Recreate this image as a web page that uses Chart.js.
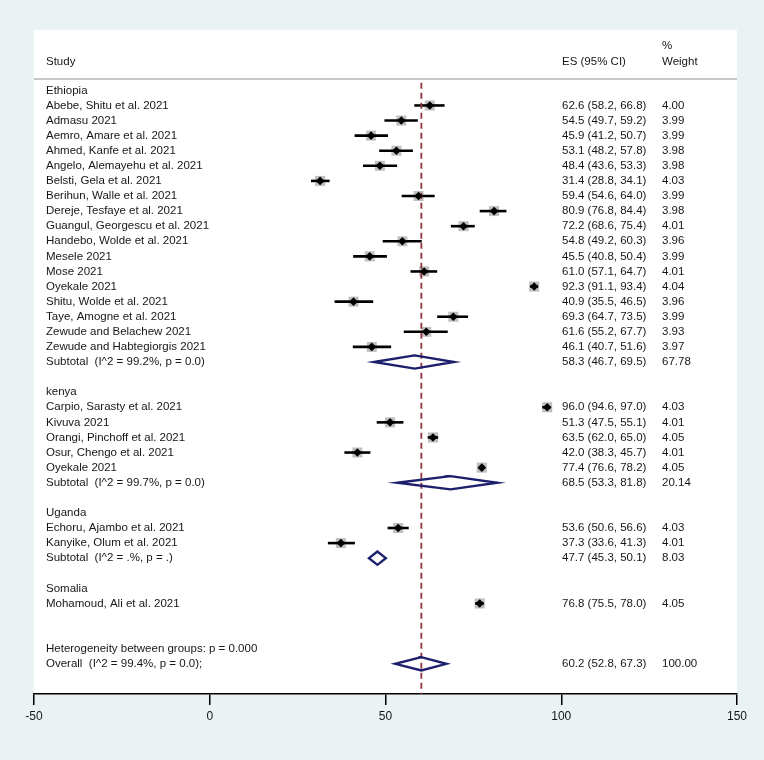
<!DOCTYPE html>
<html>
<head>
<meta charset="utf-8">
<title>Forest plot</title>
<script src="https://cdn.jsdelivr.net/npm/chart.js@4"></script>
<style>
  html, body { margin: 0; padding: 0; background: #eaf2f3; }
  #wrap { width: 764px; height: 760px; position: relative; }
</style>
</head>
<body>
<div id="wrap"><canvas id="forest"></canvas></div>
<script>
// ---- data ----
const groupNames = ['Ethiopia', 'kenya', 'Uganda', 'Somalia'];

const studyNames = [
    'Abebe, Shitu et al. 2021', 'Admasu 2021', 'Aemro, Amare et al. 2021', 'Ahmed, Kanfe et al. 2021',
    'Angelo, Alemayehu et al. 2021', 'Belsti, Gela et al. 2021', 'Berihun, Walle et al. 2021',
    'Dereje, Tesfaye et al. 2021', 'Guangul, Georgescu et al. 2021', 'Handebo, Wolde et al. 2021',
    'Mesele 2021', 'Mose 2021', 'Oyekale 2021', 'Shitu, Wolde et al. 2021', 'Taye, Amogne et al. 2021',
    'Zewude and Belachew 2021', 'Zewude and Habtegiorgis 2021',
    'Carpio, Sarasty et al. 2021', 'Kivuva 2021', 'Orangi, Pinchoff et al. 2021', 'Osur, Chengo et al. 2021',
    'Oyekale 2021',
    'Echoru, Ajambo et al. 2021', 'Kanyike, Olum et al. 2021',
    'Mohamoud, Ali et al. 2021'
];
const studyGroup = [0,0,0,0,0,0,0,0,0,0,0,0,0,0,0,0,0, 1,1,1,1,1, 2,2, 3];
const studyEs = [62.6, 54.5, 45.9, 53.1, 48.4, 31.4, 59.4, 80.9, 72.2, 54.8, 45.5, 61.0, 92.3, 40.9, 69.3, 61.6, 46.1,
                 96.0, 51.3, 63.5, 42.0, 77.4, 53.6, 37.3, 76.8];
const studyLo = [58.2, 49.7, 41.2, 48.2, 43.6, 28.8, 54.6, 76.8, 68.6, 49.2, 40.8, 57.1, 91.1, 35.5, 64.7, 55.2, 40.7,
                 94.6, 47.5, 62.0, 38.3, 76.6, 50.6, 33.6, 75.5];
const studyHi = [66.8, 59.2, 50.7, 57.8, 53.3, 34.1, 64.0, 84.4, 75.4, 60.3, 50.4, 64.7, 93.4, 46.5, 73.5, 67.7, 51.6,
                 97.0, 55.1, 65.0, 45.7, 78.2, 56.6, 41.3, 78.0];
const studyWeight = [4.00, 3.99, 3.99, 3.98, 3.98, 4.03, 3.99, 3.98, 4.01, 3.96, 3.99, 4.01, 4.04, 3.96, 3.99, 3.93, 3.97,
                     4.03, 4.01, 4.05, 4.01, 4.05, 4.03, 4.01, 4.05];

const subtotalLabels = ['Subtotal  (I^2 = 99.2%, p = 0.0)', 'Subtotal  (I^2 = 99.7%, p = 0.0)',
                        'Subtotal  (I^2 = .%, p = .)', null];
const subtotalEs = [58.3, 68.5, 47.7, null];
const subtotalLo = [46.7, 53.3, 45.3, null];
const subtotalHi = [69.5, 81.8, 50.1, null];
const subtotalWeight = [67.78, 20.14, 8.03, null];

const hetLabel = 'Heterogeneity between groups: p = 0.000';
const overallLabel = 'Overall  (I^2 = 99.4%, p = 0.0);';
const overallEs = 60.2, overallLo = 52.8, overallHi = 67.3, overallWeight = 100.00;

const xTicks = [-50, 0, 50, 100, 150];

// ---- build row layout ----
const rows = [];
let r = 0;
groupNames.forEach((g, gi) => {
    rows.push({ kind: 'group', text: g, row: r++ });
    studyNames.forEach((n, i) => {
        if (studyGroup[i] !== gi) return;
        rows.push({ kind: 'study', text: n, es: studyEs[i], lo: studyLo[i], hi: studyHi[i], w: studyWeight[i], row: r++ });
    });
    if (subtotalEs[gi] != null) {
        rows.push({ kind: 'sub', text: subtotalLabels[gi], es: subtotalEs[gi], lo: subtotalLo[gi],
                    hi: subtotalHi[gi], w: subtotalWeight[gi], row: r });
    }
    r += 2;
});
rows.push({ kind: 'het', text: hetLabel, row: r++ });
rows.push({ kind: 'sub', text: overallLabel, es: overallEs, lo: overallLo, hi: overallHi, w: overallWeight, row: r });

const studyRows = rows.filter(d => d.kind === 'study');
const diamondRows = rows.filter(d => d.kind === 'sub');

const FONT = '"Liberation Sans", Arial, Helvetica, sans-serif';
const NAVY = '#1b1f6c';
const H = 0.44; // diamond half height in rows

function diamond(d) {
    return [
        { x: d.lo, y: d.row }, { x: d.es, y: d.row - H }, { x: d.hi, y: d.row },
        { x: d.es, y: d.row + H }, { x: d.lo, y: d.row }, { x: d.es, y: d.row - H }
    ];
}

const datasets = [];
// grey weight boxes
datasets.push({
    data: studyRows.map(d => ({ x: d.es, y: d.row })),
    pointStyle: 'rect',
    pointRadius: ctx => 3.54 * Math.sqrt(studyRows[ctx.dataIndex].w),
    backgroundColor: '#bfbfbf',
    borderWidth: 0,
    order: 5
});
// confidence intervals
studyRows.forEach(d => {
    datasets.push({
        data: [{ x: d.lo, y: d.row }, { x: d.hi, y: d.row }],
        showLine: true,
        borderColor: '#000',
        borderWidth: 2.6,
        pointRadius: 0,
        order: 4
    });
});
// overall effect line
datasets.push({
    data: [{ x: overallEs, y: -0.5 }, { x: overallEs, y: 40 }],
    showLine: true,
    borderColor: '#93343d',
    borderWidth: 1.8,
    borderDash: [6, 4],
    pointRadius: 0,
    order: 3
});
// subtotal / overall diamonds
diamondRows.forEach(d => {
    datasets.push({
        data: diamond(d),
        showLine: true,
        borderColor: NAVY,
        borderWidth: 2.4,
        pointRadius: 0,
        order: 2
    });
});
// point estimates
datasets.push({
    data: studyRows.map(d => ({ x: d.es, y: d.row })),
    pointStyle: 'rectRot',
    pointRadius: 4.3,
    backgroundColor: '#000',
    borderWidth: 0,
    order: 1
});

const fmt = d => `${d.es.toFixed(1)} (${d.lo.toFixed(1)}, ${d.hi.toFixed(1)})`;

const forestText = {
    id: 'forestText',
    beforeDraw(chart) {
        const { ctx, chartArea: a } = chart;
        ctx.save();
        ctx.fillStyle = '#ffffff';
        ctx.fillRect(a.left, a.top, a.right - a.left, a.bottom - a.top);
        ctx.restore();
    },
    beforeDatasetsDraw(chart) {
        const { ctx, chartArea: a, scales: { y } } = chart;
        const yy = y.getPixelForValue(-0.75);
        ctx.save();
        ctx.strokeStyle = '#c8c8c8';
        ctx.lineWidth = 2;
        ctx.beginPath();
        ctx.moveTo(a.left, yy);
        ctx.lineTo(a.right, yy);
        ctx.stroke();
        ctx.restore();
    },
    afterDatasetsDraw(chart) {
        const { ctx, chartArea: a, scales: { y } } = chart;
        const colStudy = a.left + 12;
        const colEs = a.left + 528;
        const colW = a.left + 628;
        ctx.save();
        ctx.font = `11.5px ${FONT}`;
        ctx.fillStyle = '#161616';
        ctx.textAlign = 'left';
        ctx.textBaseline = 'middle';
        // header
        ctx.fillText('Study', colStudy, y.getPixelForValue(-1.88));
        ctx.fillText('ES (95% CI)', colEs, y.getPixelForValue(-1.88));
        ctx.fillText('%', colW, y.getPixelForValue(-2.94));
        ctx.fillText('Weight', colW, y.getPixelForValue(-1.88));
        rows.forEach(d => {
            const py = y.getPixelForValue(d.row);
            ctx.fillText(d.text, colStudy, py);
            if (d.es != null) {
                ctx.fillText(fmt(d), colEs, py);
                ctx.fillText(d.w.toFixed(2), colW, py);
            }
        });
        ctx.restore();
    }
};

new Chart(document.getElementById('forest'), {
    type: 'scatter',
    data: { datasets },
    options: {
        responsive: true,
        maintainAspectRatio: false,
        animation: false,
        events: [],
        layout: { padding: { left: 34, right: 27, top: 30, bottom: 0 } },
        plugins: { legend: { display: false }, tooltip: { enabled: false } },
        scales: {
            x: {
                type: 'linear',
                min: -50,
                max: 150,
                afterBuildTicks: s => { s.ticks = xTicks.map(v => ({ value: v })); },
                afterFit: s => { s.height = 66; },
                border: { display: true, color: '#000', width: 1.5 },
                grid: { drawOnChartArea: false, drawTicks: true, tickLength: 11, color: '#000', lineWidth: 1.5 },
                ticks: { font: { family: FONT, size: 12 }, color: '#161616', padding: 4, maxRotation: 0, autoSkip: false }
            },
            y: {
                type: 'linear',
                display: false,
                min: -4,
                max: 40,
                reverse: true
            }
        }
    },
    plugins: [forestText]
});
</script>
</body>
</html>
